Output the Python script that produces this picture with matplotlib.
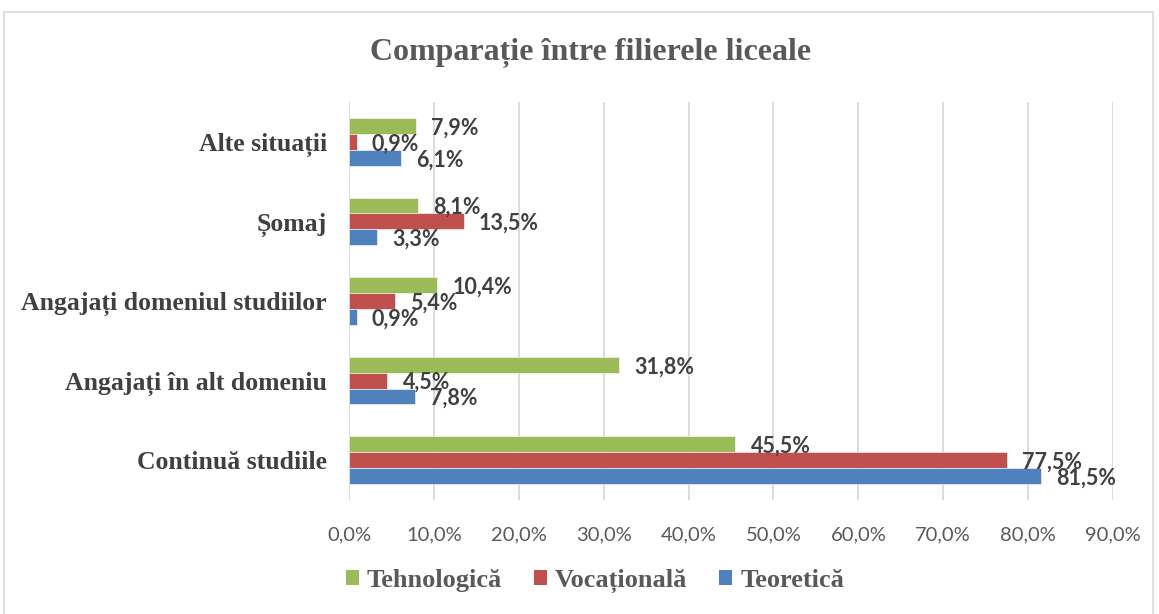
import matplotlib
matplotlib.use("Agg")
import matplotlib.pyplot as plt
from matplotlib.patches import Rectangle, Patch
from matplotlib.ticker import FuncFormatter

categories = ["Continuă studiile", "Angajați în alt domeniu", "Angajați domeniul studiilor", "Șomaj", "Alte situații"]
teoretica = [81.5, 7.8, 0.9, 3.3, 6.1]
vocationala = [77.5, 4.5, 5.4, 13.5, 0.9]
tehnologica = [45.5, 31.8, 10.4, 8.1, 7.9]
series_names = ["Tehnologică", "Vocațională", "Teoretică"]
xticks = [0, 10, 20, 30, 40, 50, 60, 70, 80, 90]

colors = {"Tehnologică": "#9BBB59", "Vocațională": "#C0504D", "Teoretică": "#4F81BD"}

fig = plt.figure(figsize=(11.59, 6.14), dpi=100)
ax = fig.add_axes([349/1159, 1-500/614, (1113-349)/1159, (500-102)/614])

# border
fig.patches.append(Rectangle((4/1159, -0.01), (1153-4)/1159, 1-12/614+0.01, transform=fig.transFigure,
                             fill=False, edgecolor="#D9D9D9", linewidth=1.2))

h = 0.2
ypos = list(range(len(categories)))
data = [(tehnologica, 0.2, "Tehnologică"), (vocationala, 0.0, "Vocațională"), (teoretica, -0.2, "Teoretică")]
for vals, off, name in data:
    ys = [y + off for y in ypos]
    ax.barh(ys, vals, height=h, color=colors[name], edgecolor="white", linewidth=0.4, zorder=3)
    for y, v in zip(ys, vals):
        ax.annotate(f"{v:.1f}%".replace(".", ","), xy=(v, y), xytext=(11, -1.5), textcoords="offset points",
                    ha="left", va="center", fontsize=15.5, fontweight="bold", family="Lato", color="#404040", zorder=4)

ax.set_xlim(0, 90)
ax.set_ylim(-0.5, 4.5)
ax.set_xticks(xticks)
ax.xaxis.set_major_formatter(FuncFormatter(lambda x, p: f"{x:.1f}%".replace(".", ",")))
ax.set_yticks(ypos)
ax.set_yticklabels(categories, family="Liberation Serif", fontweight="bold", fontsize=18.5, color="#404040")
for lab in ax.get_xticklabels():
    lab.set_family("Lato")
    lab.set_fontsize(14.5)
    lab.set_color("#595959")
ax.tick_params(axis="x", length=0, pad=19)
ax.tick_params(axis="y", length=0, pad=16)
ax.grid(axis="x", color="#D9D9D9", linewidth=1.3, zorder=0)
for s in ax.spines.values():
    s.set_visible(False)

fig.text(591/1159, 1-53/614, "Comparație între filierele liceale", ha="center", va="center",
         family="Liberation Serif", fontweight="bold", fontsize=23, color="#595959")

handles = [Patch(facecolor=colors[n]) for n in series_names]
fig.legend(handles, series_names, loc="center", bbox_to_anchor=(595/1159, 1-581/614), ncol=3, frameon=False,
           prop={"family": "Liberation Serif", "weight": "bold", "size": 19}, handlelength=0.5, handleheight=0.5,
           handletextpad=0.3, columnspacing=1.2, labelcolor="#595959")

fig.savefig("out.png", dpi=100, facecolor="white")
